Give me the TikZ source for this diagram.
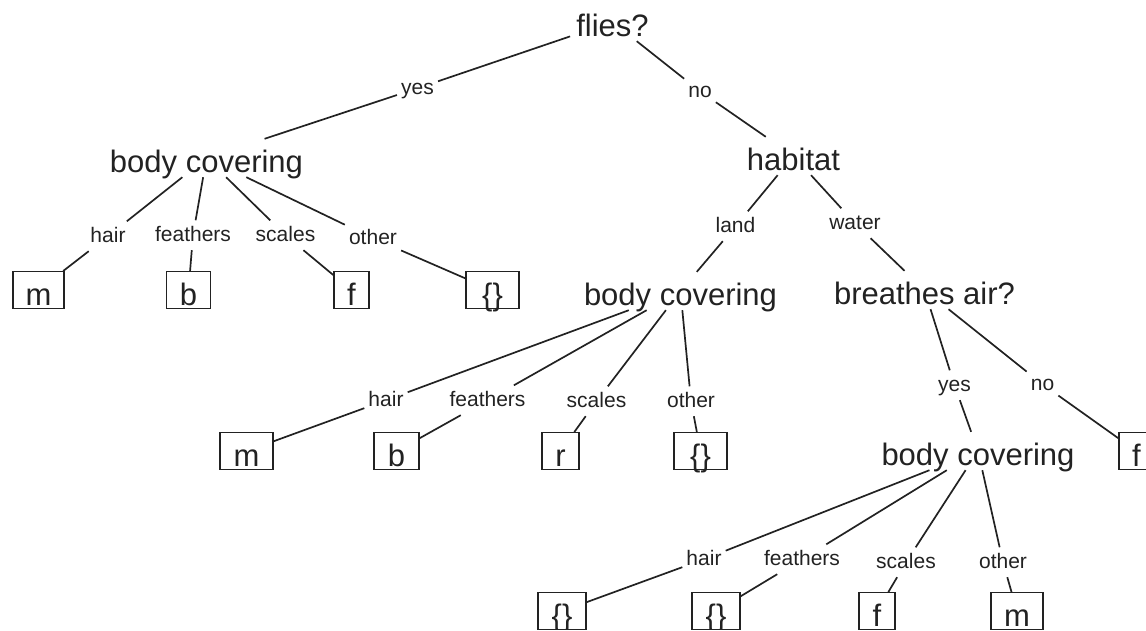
\documentclass[tikz,border=0pt]{standalone}
\usepackage{fontspec}
\setmainfont{Liberation Sans}
\newcommand\tbig{\fontsize{31pt}{36pt}\selectfont}
\newcommand\tsmall{\fontsize{21pt}{25pt}\selectfont}
\definecolor{ink}{HTML}{222222}
\begin{document}
\begin{tikzpicture}[x=1pt,y=-1pt,
  q/.style={font=\tbig, text=ink, text height=31pt, text depth=3pt, inner xsep=6pt, inner ysep=2pt, anchor=base},
  lab/.style={font=\tsmall, text=ink, text height=15.5pt, text depth=4pt, inner xsep=4pt, inner ysep=5pt, anchor=base},
  leaf/.style={draw=ink, line width=1.3pt, font=\tbig, text=ink, text height=31pt, text depth=0pt, inner ysep=3pt, inner xsep=0pt, anchor=north},
  edge/.style={draw=ink, line width=1.7pt}]
\useasboundingbox (0,0) rectangle (1146,630);
\clip (0,0) rectangle (1146,629.3);
% question nodes
\node[q] (flies) at (612.5,36) {flies?};
\node[q] (bc1) at (206.5,172) {body covering};
\node[q] (hab) at (793.5,170) {habitat};
\node[q] (bc2) at (680.5,305) {body covering};
\node[q] (air) at (924.5,304) {breathes air?};
\node[q] (bc3) at (978,465) {body covering};
% labels
\node[lab] (yes1) at (417.5,94) {yes};
\node[lab] (no1) at (700,97) {no};
\node[lab] (h1) at (108,242) {hair};
\node[lab] (fe1) at (193,241) {feathers};
\node[lab] (sc1) at (285.5,241) {scales};
\node[lab] (ot1) at (373,244) {other};
\node[lab] (land) at (735.5,232) {land};
\node[lab] (water) at (855,229) {water};
\node[lab] (h2) at (386,406) {hair};
\node[lab] (fe2) at (487.5,406) {feathers};
\node[lab] (sc2) at (596.5,407) {scales};
\node[lab] (ot2) at (691,407) {other};
\node[lab] (yes2) at (954.5,391) {yes};
\node[lab] (no2) at (1042.5,390) {no};
\node[lab] (h3) at (704,565) {hair};
\node[lab] (fe3) at (802,565) {feathers};
\node[lab] (sc3) at (906,568) {scales};
\node[lab] (ot3) at (1003,568) {other};
% leaves
\node[leaf, minimum width=51pt] (m1) at (38.5,271) {m};
\node[leaf, minimum width=44pt] (b1) at (188.5,271) {b};
\node[leaf, minimum width=35pt] (f1) at (351.5,271) {f};
\node[leaf, minimum width=53pt] (e1) at (492.5,271) {\{\}};
\node[leaf, minimum width=53pt] (m2) at (246.5,432) {m};
\node[leaf, minimum width=45pt] (b2) at (396.5,432) {b};
\node[leaf, minimum width=37pt] (r2) at (560.5,432) {r};
\node[leaf, minimum width=53pt] (e2) at (700.5,432) {\{\}};
\node[leaf, minimum width=35pt] (f2) at (1136.5,432) {f};
\node[leaf, minimum width=48pt] (e3) at (562,592) {\{\}};
\node[leaf, minimum width=48pt] (e4) at (716,592) {\{\}};
\node[leaf, minimum width=36pt] (f3) at (877,592) {f};
\node[leaf, minimum width=52pt] (m3) at (1017,592) {m};
% connectors
\path[edge] (flies) -- (yes1) (yes1) -- (bc1);
\path[edge] (flies) -- (no1) (no1) -- (hab);
\path[edge] (bc1) -- (h1) (h1) -- (m1);
\path[edge] (bc1) -- (fe1) (fe1) -- (b1);
\path[edge] (bc1) -- (sc1) (sc1) -- (f1);
\path[edge] (bc1) -- (ot1) (ot1) -- (e1);
\path[edge] (hab) -- (land) (land) -- (bc2);
\path[edge] (hab) -- (water) (water) -- (air);
\path[edge] (bc2) -- (h2) (h2) -- (m2);
\path[edge] (bc2) -- (fe2) (fe2) -- (b2);
\path[edge] (bc2) -- (sc2) (sc2) -- (r2);
\path[edge] (bc2) -- (ot2) (ot2) -- (e2);
\path[edge] (air) -- (yes2) (yes2) -- (bc3);
\path[edge] (air) -- (no2) (no2) -- (f2);
\path[edge] (bc3) -- (h3) (h3) -- (e3);
\path[edge] (bc3) -- (fe3) (fe3) -- (e4);
\path[edge] (bc3) -- (sc3) (sc3) -- (f3);
\path[edge] (bc3) -- (ot3) (ot3) -- (m3);
\end{tikzpicture}
\end{document}
